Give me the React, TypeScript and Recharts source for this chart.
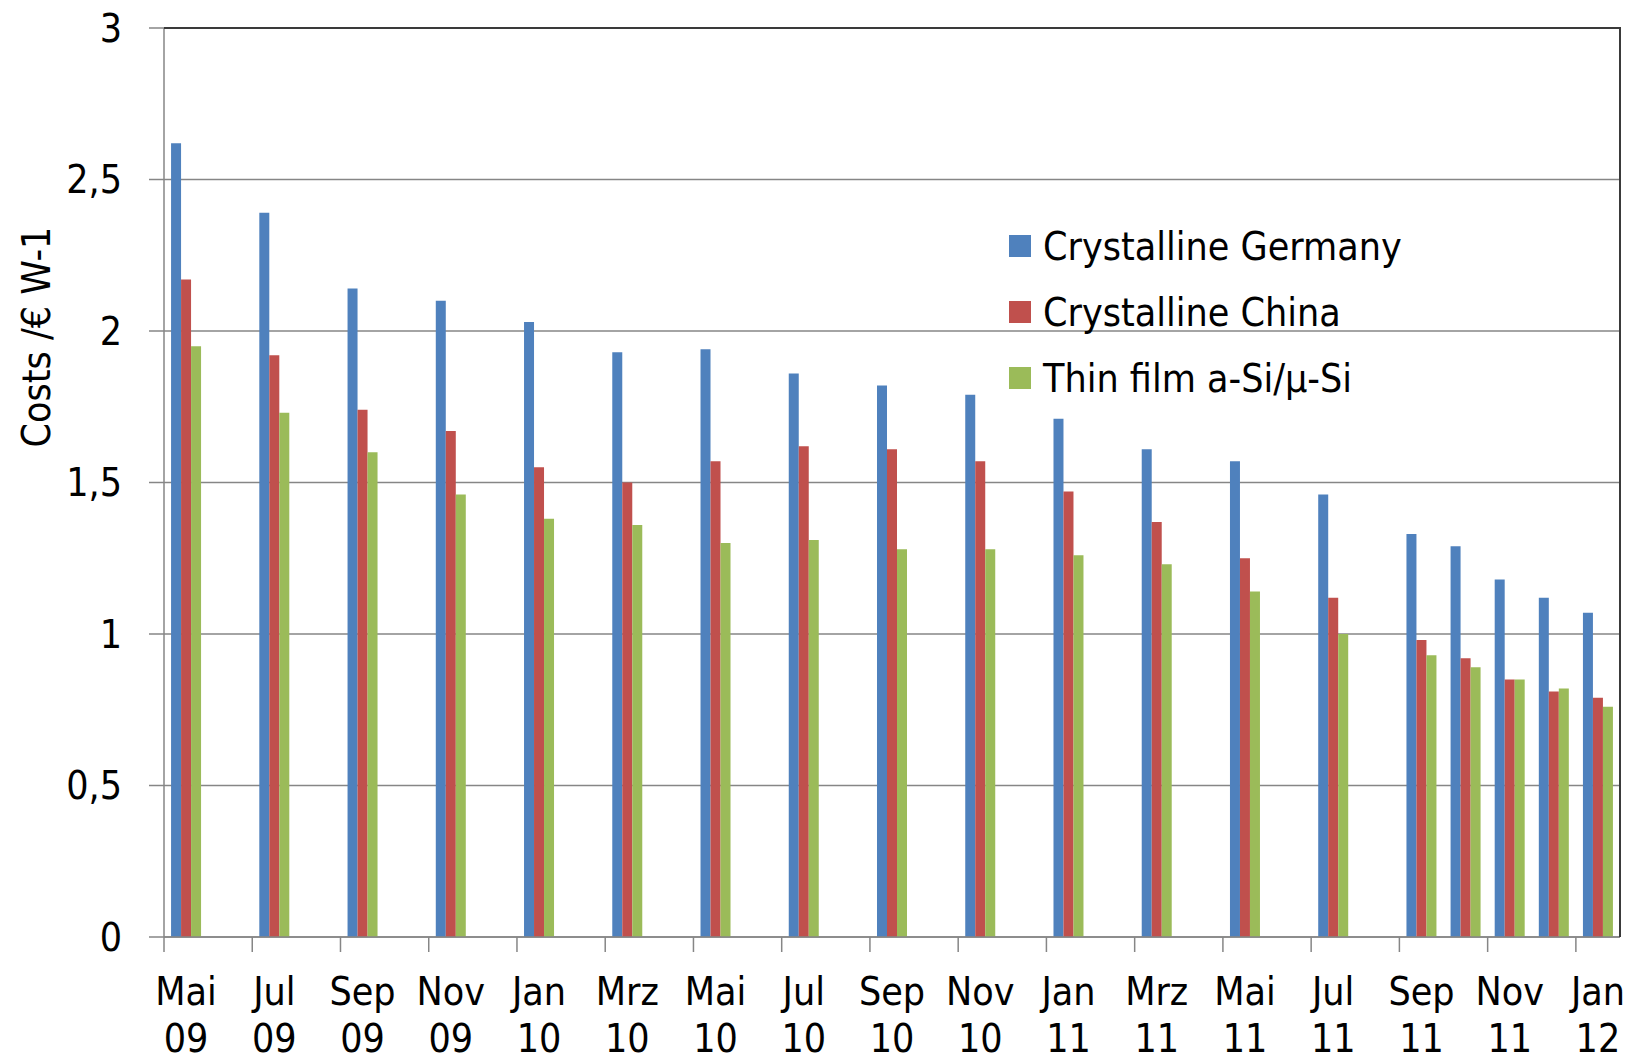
import { BarChart, Bar, XAxis, YAxis, CartesianGrid, Legend, Label } from "recharts";

const months = [
  "Mai 09", "Jun 09", "Jul 09", "Aug 09", "Sep 09", "Okt 09", "Nov 09", "Dez 09",
  "Jan 10", "Feb 10", "Mrz 10", "Apr 10", "Mai 10", "Jun 10", "Jul 10", "Aug 10",
  "Sep 10", "Okt 10", "Nov 10", "Dez 10", "Jan 11", "Feb 11", "Mrz 11", "Apr 11",
  "Mai 11", "Jun 11", "Jul 11", "Aug 11", "Sep 11", "Okt 11", "Nov 11", "Dez 11",
  "Jan 12",
];

// null = no survey in that month
const germany = [
  2.62, null, 2.39, null, 2.14, null, 2.1, null, 2.03, null, 1.93, null, 1.94, null,
  1.86, null, 1.82, null, 1.79, null, 1.71, null, 1.61, null, 1.57, null, 1.46, null,
  1.33, 1.29, 1.18, 1.12, 1.07,
];
const china = [
  2.17, null, 1.92, null, 1.74, null, 1.67, null, 1.55, null, 1.5, null, 1.57, null,
  1.62, null, 1.61, null, 1.57, null, 1.47, null, 1.37, null, 1.25, null, 1.12, null,
  0.98, 0.92, 0.85, 0.81, 0.79,
];
const thinFilm = [
  1.95, null, 1.73, null, 1.6, null, 1.46, null, 1.38, null, 1.36, null, 1.3, null,
  1.31, null, 1.28, null, 1.28, null, 1.26, null, 1.23, null, 1.14, null, 1.0, null,
  0.93, 0.89, 0.85, 0.82, 0.76,
];

const seriesNames = ["Crystalline Germany", "Crystalline China", "Thin film a-Si/µ-Si"];
const seriesColors = ["#4F81BD", "#C0504D", "#9BBB59"];
const yTicks = [0, 0.5, 1, 1.5, 2, 2.5, 3];

const data = months.map((m, i) => ({
  month: m,
  germany: germany[i],
  china: china[i],
  thin: thinFilm[i],
}));

const W = 1633;
const H = 1062;
const XH = 125;
const M = { top: 28, right: 13, bottom: 0, left: 0 };
const YW = 164;
const PLOT_W = W - YW - M.right;
const PLOT_H = H - M.top - XH;
const AXIS_Y = M.top + PLOT_H;
const FONT = "'DejaVu Sans Condensed', 'DejaVu Sans', sans-serif";
const FS = 39;

function MonthTick(props: any) {
  const { x, index, payload } = props;
  const band = PLOT_W / months.length;
  if (index % 2 !== 0) return null;
  const [mon, yr] = String(payload.value).split(" ");
  const left = x - band / 2;
  return (
    <g>
      <line x1={left} x2={left} y1={AXIS_Y} y2={AXIS_Y + 15} stroke="#868686" strokeWidth={1.5} />
      <text x={x} y={AXIS_Y + 68} textAnchor="middle" fontSize={FS} fontFamily={FONT} fill="#000">
        {mon}
      </text>
      <text x={x} y={AXIS_Y + 115} textAnchor="middle" fontSize={FS} fontFamily={FONT} fill="#000">
        {yr}
      </text>
    </g>
  );
}

function LegendBox() {
  return (
    <div style={{ fontFamily: FONT, fontSize: FS, color: "#000", lineHeight: 1 }}>
      {seriesNames.map((n, i) => (
        <div key={n} style={{ display: "flex", alignItems: "center", height: 66, whiteSpace: "nowrap" }}>
          <span
            style={{ width: 22, height: 22, background: seriesColors[i], marginRight: 12, display: "inline-block" }}
          />
          <span>{n}</span>
        </div>
      ))}
    </div>
  );
}

export default function App() {
  return (
    <div style={{ position: "absolute", left: 0, top: 0, width: W, height: H, background: "#fff" }}>
      <BarChart width={W} height={H} data={data} margin={M} barCategoryGap="16%" barGap={0}>
        <CartesianGrid vertical={false} stroke="#868686" strokeWidth={1.5} />
        <XAxis
          dataKey="month"
          height={XH}
          interval={0}
          tickLine={false}
          tick={<MonthTick />}
          stroke="#868686"
          strokeWidth={1.5}
        />
        <YAxis
          width={YW}
          domain={[0, 3]}
          ticks={yTicks}
          tickFormatter={(v: number) => String(v).replace(".", ",")}
          tickSize={15}
          tickMargin={27}
          stroke="#868686"
          strokeWidth={1.5}
          tick={{ fontSize: FS, fontFamily: FONT, fill: "#000" }}
        >
          <Label
            content={() => (
              <text
                x={50}
                y={337}
                transform="rotate(-90 50 337)"
                textAnchor="middle"
                fontSize={FS}
                fontFamily={FONT}
                fill="#000"
              >
                Costs /€ W-1
              </text>
            )}
          />
        </YAxis>
        <Legend
          layout="vertical"
          align="center"
          verticalAlign="middle"
          content={<LegendBox />}
          wrapperStyle={{ position: "absolute", left: 1009, top: 213, width: "auto" }}
        />
        <Bar dataKey="germany" name={seriesNames[0]} fill={seriesColors[0]} isAnimationActive={false} />
        <Bar dataKey="china" name={seriesNames[1]} fill={seriesColors[1]} isAnimationActive={false} />
        <Bar dataKey="thin" name={seriesNames[2]} fill={seriesColors[2]} isAnimationActive={false} />
      </BarChart>
      <div
        style={{
          position: "absolute",
          left: YW,
          top: M.top - 1,
          width: PLOT_W + 1,
          height: PLOT_H + 1,
          boxSizing: "border-box",
          borderTop: "2px solid #3a3a3a",
          borderRight: "2px solid #3a3a3a",
          pointerEvents: "none",
        }}
      />
    </div>
  );
}
